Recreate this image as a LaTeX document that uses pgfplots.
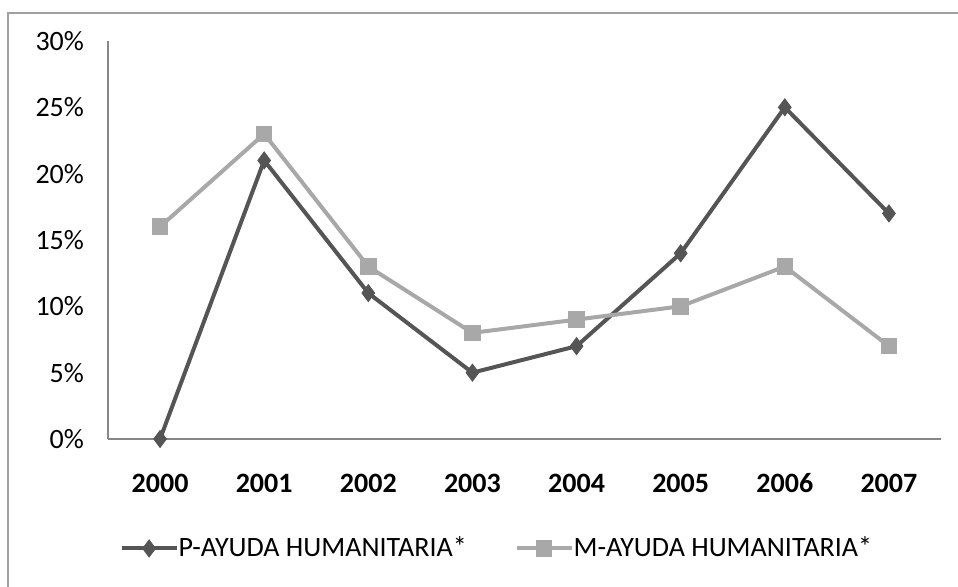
\documentclass[border=0pt]{standalone}
\usepackage{pgfplots}
\pgfplotsset{compat=1.18}
\usepackage{fontspec}
\setmainfont{Carlito}
\definecolor{pdark}{RGB}{85,85,85}
\definecolor{mlight}{RGB}{168,168,168}
\definecolor{axgray}{RGB}{134,134,134}
\definecolor{frgray}{RGB}{160,160,160}
\begin{document}
\begin{tikzpicture}
\useasboundingbox (0,0) rectangle (479pt,293pt);
\draw[frgray,line width=1.2pt] (4pt,-10pt) -- (4pt,286.5pt) -- (490pt,286.5pt);
\begin{axis}[
  at={(54pt,73.5pt)}, anchor=south west,
  scale only axis, width=416.5pt, height=199pt,
  xmin=-0.5, xmax=7.5, ymin=0, ymax=30,
  clip=false,
  axis x line*=bottom, axis y line*=left,
  axis line style={axgray, line width=0.8pt, -},
  xtick={0,...,7},
  xticklabels={2000,2001,2002,2003,2004,2005,2006,2007},
  ytick={0,5,...,30},
  yticklabels={0\%,5\%,10\%,15\%,20\%,25\%,30\%},
  major tick length=0pt,
  xticklabel style={font=\fontsize{14}{16}\selectfont\bfseries, yshift=-13.5pt, text height=9.5pt, text depth=0pt},
  yticklabel style={font=\fontsize{14}{16}\selectfont, xshift=-8.5pt},
  legend columns=2,
  legend style={draw=none, fill=none, at={(0.468,-0.275)}, anchor=center,
    font=\fontsize{14}{16}\selectfont, column sep=0pt,
    /tikz/every odd column/.append style={column sep=-2pt},
    /tikz/every even column/.append style={column sep=22pt}},
  legend cell align=left,
  legend image code/.code={
    \draw[#1] (0pt,0pt) -- (27.5pt,0pt);
    \draw[#1, mark repeat=1] plot coordinates {(13.75pt,0pt)};
  },
]
\addplot[pdark, line width=2pt, mark=diamond*, mark size=4.2pt, mark options={fill=pdark, draw=pdark, line width=0.5pt}]
  coordinates {(0,0) (1,21) (2,11) (3,5) (4,7) (5,14) (6,25) (7,17)};
\addlegendentry{P-AYUDA HUMANITARIA*}
\addplot[mlight, line width=2pt, mark=square*, mark size=3.9pt, mark options={fill=mlight, draw=mlight, line width=0.5pt}]
  coordinates {(0,16) (1,23) (2,13) (3,8) (4,9) (5,10) (6,13) (7,7)};
\addlegendentry{M-AYUDA HUMANITARIA*}
\end{axis}
\end{tikzpicture}
\end{document}
